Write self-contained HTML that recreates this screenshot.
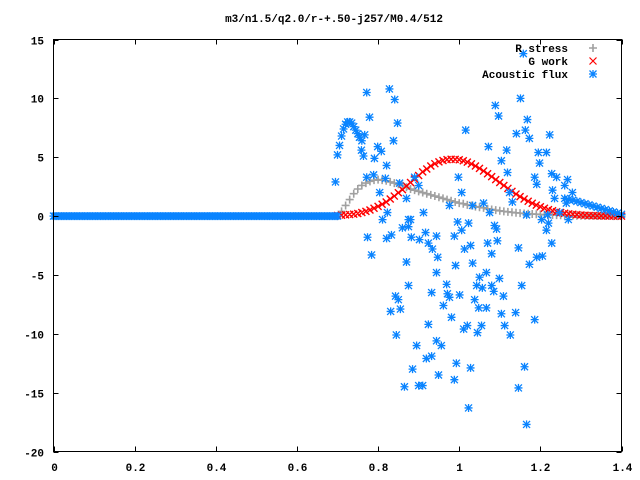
<!DOCTYPE html>
<html><head><meta charset="utf-8"><style>
html,body{margin:0;padding:0;background:#fff;width:640px;height:480px;overflow:hidden}
text{font-family:"Liberation Mono",monospace;font-size:11px;font-weight:bold;fill:#000}
</style></head><body>
<svg id="chart" width="640" height="480" xmlns="http://www.w3.org/2000/svg">
<text x="334" y="22" text-anchor="middle">m3/n1.5/q2.0/r-+.50-j257/M0.4/512</text>
<g id="marks"></g>
<rect x="53.5" y="39.5" width="568" height="412" fill="none" stroke="#000" stroke-width="1"/>
<g id="axes"></g>
<g id="legend">
<text x="568" y="52" text-anchor="end">R stress</text>
<text x="568" y="65" text-anchor="end">G work</text>
<text x="568" y="78" text-anchor="end">Acoustic flux</text>
</g>
</svg>
<script>
const xTicks=[0,0.2,0.4,0.6,0.8,1,1.2,1.4];
const xTickLabels=["0","0.2","0.4","0.6","0.8","1","1.2","1.4"];
const yTicks=[-20,-15,-10,-5,0,5,10,15];
const yTickLabels=["-20","-15","-10","-5","0","5","10","15"];
const curveX=[0.70,0.71,0.72,0.73,0.74,0.75,0.76,0.77,0.78,0.79,0.80,0.81,0.82,0.83,0.84,0.85,0.86,0.87,0.88,0.89,0.90,0.91,0.92,0.93,0.94,0.95,0.96,0.97,0.98,0.99,1.00,1.01,1.02,1.03,1.04,1.05,1.06,1.07,1.08,1.09,1.10,1.11,1.12,1.13,1.14,1.15,1.16,1.17,1.18,1.19,1.20,1.21,1.22,1.23,1.24,1.25,1.26,1.27,1.28,1.29,1.30,1.31,1.32,1.33,1.34,1.35,1.36,1.37,1.38,1.39,1.40];
const rStress=[0,0.4,0.9,1.4,1.9,2.3,2.6,2.8,2.95,3.05,3.1,3.05,3.0,2.9,2.8,2.7,2.6,2.45,2.3,2.2,2.1,2.0,1.9,1.8,1.7,1.6,1.5,1.4,1.3,1.2,1.1,1.05,0.95,0.9,0.8,0.75,0.7,0.62,0.56,0.5,0.45,0.4,0.36,0.32,0.28,0.25,0.22,0.2,0.18,0.16,0.14,0.12,0.1,0.09,0.08,0.07,0.06,0.05,0.04,0.03,0.03,0.02,0.02,0.02,0.01,0.01,0.01,0.01,0,0,0];
const gWork=[0.05,0.07,0.1,0.13,0.17,0.22,0.3,0.4,0.52,0.66,0.82,1.0,1.2,1.45,1.7,1.98,2.25,2.55,2.85,3.15,3.45,3.75,4.0,4.25,4.45,4.6,4.72,4.8,4.83,4.82,4.78,4.7,4.58,4.43,4.25,4.05,3.83,3.6,3.35,3.1,2.85,2.6,2.35,2.1,1.87,1.65,1.45,1.26,1.09,0.93,0.79,0.66,0.55,0.45,0.37,0.3,0.24,0.19,0.15,0.12,0.09,0.07,0.05,0.04,0.03,0.02,0.02,0.01,0.01,0,0];
const fluxArcX=[0.700,0.705,0.710,0.715,0.720,0.725,0.730,0.735,0.740,0.745,0.750,0.755,0.760];
const fluxArcY=[5.2,6.0,6.8,7.4,7.8,8.0,8.0,7.9,7.6,7.3,7.0,6.7,6.4];
const fluxTailX=[1.26,1.27,1.28,1.29,1.30,1.31,1.32,1.33,1.34,1.35,1.36,1.37,1.38,1.39,1.40];
const fluxTailY=[1.5,1.4,1.35,1.25,1.15,1.05,0.95,0.85,0.75,0.65,0.55,0.45,0.35,0.25,0.15];
const fluxScatterX=[.772,.828,.841,.779,.848,.838,.754,.767,.799,.808,.759,.764,.791,.821,.772,.789,.818,.804,.853,.870,.890,.900,.912,.811,.823,.875,1.016,1.089,1.097,1.151,1.168,1.163,1.141,1.173,1.223,1.072,1.117,1.104,1.119,.998,1.006,.976,1.033,1.060,1.075,1.131,1.124,1.195,1.215,1.198,1.186,1.191,1.228,1.240,1.267,1.260,1.230,1.235,1.279,1.264,1.247,1.203,1.218,1.166,.695,1.158,
.811,.880,.996,1.023,1.087,1.092,.860,.875,1.220,1.215,1.269,.774,.821,.833,.882,.902,.917,.924,.944,.988,1.006,.934,.947,1.013,1.028,1.070,1.094,1.080,1.146,1.228,.784,.870,.991,1.033,1.173,1.191,1.205,.944,1.050,1.067,1.099,.875,.969,1.043,1.057,1.080,1.085,1.154,.843,.850,.932,.971,.976,1.001,1.038,1.109,.961,.831,.855,1.048,1.067,1.104,1.139,.981,.924,1.011,1.020,1.055,1.045,1.112,1.186,.845,1.126,.944,.895,.956,.919,.932,.993,.885,1.028,1.161,.949,.988,.865,.900,.910,1.146,1.023,1.166];
const fluxScatterY=[10.5,10.8,9.9,8.4,7.9,6.4,6.7,6.9,5.9,5.5,5.6,5.1,4.9,4.3,3.3,3.5,3.2,2.0,2.8,1.5,3.3,2.6,0.3,-0.3,0.3,-0.3,7.3,9.4,8.5,10.0,8.2,7.3,7.0,6.6,6.9,5.9,5.6,4.7,3.7,3.3,2.0,0.9,0.9,1.1,0.3,1.2,2.0,5.4,5.4,4.5,3.3,2.7,3.6,3.3,3.1,2.6,2.2,1.5,2.0,1.1,0.3,-0.3,0.1,0.1,2.9,13.8,
-0.3,-0.3,-0.5,-0.6,-0.8,-1.1,-1.0,-0.9,-0.6,-1.2,-0.3,-1.8,-1.9,-1.6,-1.8,-2.0,-1.4,-2.3,-1.7,-1.7,-1.2,-2.8,-3.5,-2.8,-2.5,-2.3,-2.1,-3.2,-2.7,-2.3,-3.3,-3.9,-4.2,-4.0,-4.1,-3.5,-3.4,-4.8,-5.2,-4.8,-5.3,-5.9,-5.8,-5.9,-6.1,-5.9,-6.4,-5.9,-6.8,-7.1,-6.5,-6.6,-6.9,-6.7,-7.1,-6.8,-7.6,-8.1,-7.9,-7.8,-7.8,-8.3,-8.2,-8.6,-9.2,-9.6,-9.3,-9.3,-9.9,-9.3,-8.8,-10.1,-10.1,-10.6,-11.0,-11.0,-12.1,-11.9,-12.5,-13.0,-12.9,-12.8,-13.5,-13.9,-14.5,-14.4,-14.4,-14.6,-16.3,-17.7];
const fluxZeroStart=0, fluxZeroEnd=0.7, fluxZeroValue=0;

const X0=53.5,X1=621.5,Y0=451.5,Y1=39.5;
const xs=v=>X0+(v-0)/(1.4-0)*(X1-X0);
const ys=v=>Y0-(v-(-20))/(15-(-20))*(Y0-Y1);
const NS="http://www.w3.org/2000/svg";
const marks=document.getElementById('marks'), axes=document.getElementById('axes');
function mk(tag,attrs,parent){const e=document.createElementNS(NS,tag);for(const k in attrs)e.setAttribute(k,attrs[k]);parent.appendChild(e);return e;}
const BLUE="#0a84ff",RED="#ff0000",GRAY="#a0a0a0";
function plus(x,y,c,p){return "M"+(x-4)+" "+y+"h8M"+x+" "+(y-4)+"v8";}
function cross(x,y){return "M"+(x-3.5)+" "+(y-3.5)+"l7 7M"+(x-3.5)+" "+(y+3.5)+"l7 -7";}
function star(x,y){return plus(x,y)+cross(x,y);}
// axes ticks
xTicks.forEach((t,i)=>{
  const x=Math.round(xs(t))+0.5;
  const l=mk('path',{d:"M"+x+" "+Y0+"v-5M"+x+" "+Y1+"v5",stroke:"#000","stroke-width":1},axes);
  
  
  const tx=mk('text',{x:x,y:471,"text-anchor":"middle"},axes);tx.textContent=xTickLabels[i];
  
  
});
yTicks.forEach((t,i)=>{
  const y=Math.round(ys(t))+0.5;
  const l=mk('path',{d:"M"+X0+" "+y+"h5M"+X1+" "+y+"h-5",stroke:"#000","stroke-width":1},axes);
  
  
  const tx=mk('text',{x:44,y:y+4,"text-anchor":"end"},axes);tx.textContent=yTickLabels[i];
  
  
});
// series
let d="";
for(let i=0;i<curveX.length;i++)d+=plus(xs(curveX[i]),ys(rStress[i]));
const rs=mk('path',{d:d,stroke:GRAY,"stroke-width":1.6,fill:"none"},marks);


d="";
for(let i=0;i<curveX.length;i++)d+=cross(xs(curveX[i]),ys(gWork[i]));
const gw=mk('path',{d:d,stroke:RED,"stroke-width":1.4,fill:"none"},marks);


d="";
for(let v=fluxZeroStart;v<=fluxZeroEnd+1e-9;v+=0.004)d+=star(xs(v),ys(fluxZeroValue));
for(let i=0;i<fluxArcX.length;i++)d+=star(xs(fluxArcX[i]),ys(fluxArcY[i]));
for(let i=0;i<fluxTailX.length;i++)d+=star(xs(fluxTailX[i]),ys(fluxTailY[i]));
for(let i=0;i<fluxScatterX.length;i++)d+=star(xs(fluxScatterX[i]),ys(fluxScatterY[i]));
const af=mk('path',{d:d,stroke:BLUE,"stroke-width":1.3,fill:"none"},marks);


// legend symbols
const lg=document.getElementById('legend');
const s1=mk('path',{d:plus(593,48),stroke:GRAY,"stroke-width":1.6},lg);


const s2=mk('path',{d:cross(593,61),stroke:RED,"stroke-width":1.2},lg);


const s3=mk('path',{d:star(593,74),stroke:BLUE,"stroke-width":1.3},lg);


</script>
</body></html>
